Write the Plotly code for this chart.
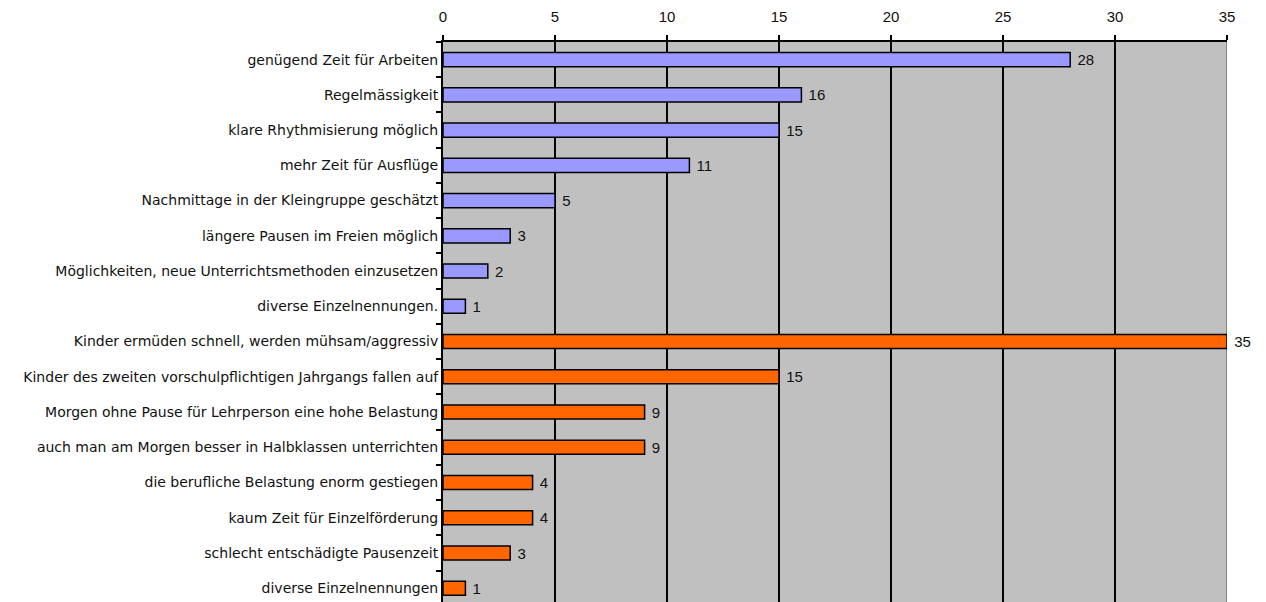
import plotly.graph_objects as go

categories = [
    "genügend Zeit für Arbeiten",
    "Regelmässigkeit",
    "klare Rhythmisierung möglich",
    "mehr Zeit für Ausflüge",
    "Nachmittage in der Kleingruppe geschätzt",
    "längere Pausen im Freien möglich",
    "Möglichkeiten, neue Unterrichtsmethoden einzusetzen",
    "diverse Einzelnennungen.",
    "Kinder ermüden schnell, werden mühsam/aggressiv",
    "Kinder des zweiten vorschulpflichtigen Jahrgangs fallen auf",
    "Morgen ohne Pause für Lehrperson eine hohe Belastung",
    "auch man am Morgen besser in Halbklassen unterrichten",
    "die berufliche Belastung enorm gestiegen",
    "kaum Zeit für Einzelförderung",
    "schlecht entschädigte Pausenzeit",
    "diverse Einzelnennungen",
]
values = [28, 16, 15, 11, 5, 3, 2, 1, 35, 15, 9, 9, 4, 4, 3, 1]
groups = ["pos"] * 8 + ["neg"] * 8
x_ticks = [0, 5, 10, 15, 20, 25, 30, 35]

group_colors = {"pos": "#9999FF", "neg": "#FF6600"}
colors = [group_colors[g] for g in groups]

label_font = "DejaVu Sans, Verdana, sans-serif"
num_font = "Liberation Sans, Arial, sans-serif"

fig = go.Figure()
fig.add_trace(go.Bar(
    y=categories,
    x=values,
    orientation="h",
    marker=dict(color=colors, line=dict(color="black", width=1.5)),
    text=values,
    texttemplate=" %{x}",
    textposition="outside",
    constraintext="none",
    textfont=dict(family=num_font, size=15, color="#111111"),
    cliponaxis=False,
    width=0.4,
    hoverinfo="skip",
))

fig.add_shape(type="line", xref="x", yref="paper", x0=35, x1=35, y0=0, y1=1,
              line=dict(color="#808080", width=2), layer="between")

fig.update_layout(
    width=1250,
    height=594,
    margin=dict(l=435, r=31, t=34, b=0),
    paper_bgcolor="white",
    plot_bgcolor="#C0C0C0",
    showlegend=False,
    font=dict(family=label_font, size=14, color="#111111"),
    xaxis=dict(
        side="top",
        range=[0, 35],
        tickvals=x_ticks,
        ticks="outside",
        ticklen=5,
        tickcolor="black",
        tickwidth=1.5,
        ticklabelstandoff=7,
        showline=True,
        linecolor="black",
        linewidth=2,
        showgrid=True,
        gridcolor="black",
        gridwidth=1.5,
        zeroline=False,
        tickfont=dict(family=num_font, size=15, color="#111111"),
        fixedrange=True,
    ),
    yaxis=dict(
        type="category",
        categoryorder="array",
        categoryarray=categories,
        range=[15.39, -0.5],
        ticks="outside",
        tickson="boundaries",
        ticklen=5,
        tickcolor="black",
        tickwidth=1.5,
        showline=True,
        linecolor="black",
        linewidth=2,
        showgrid=False,
        tickfont=dict(family=label_font, size=14, color="#111111"),
        fixedrange=True,
    ),
)

fig.write_html("out.html")
